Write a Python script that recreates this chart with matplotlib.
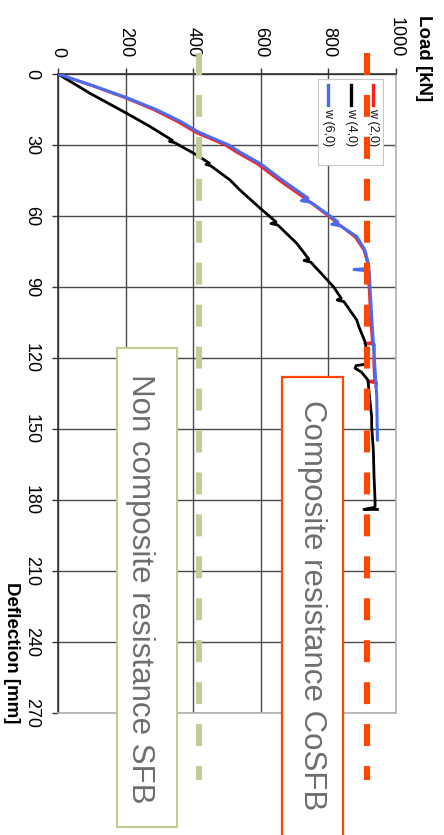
import matplotlib
matplotlib.use("Agg")
import matplotlib.pyplot as plt
from matplotlib.patches import Rectangle
from matplotlib.lines import Line2D

plt.rcParams["font.family"] = ["Liberation Sans", "DejaVu Sans"]
plt.rcParams["lines.scale_dashes"] = False

# ---- data -------------------------------------------------------------
load_ticks = [0, 200, 400, 600, 800, 1000]
defl_ticks = [0, 30, 60, 90, 120, 150, 180, 210, 240, 270]

# w (2,0)
red_defl = [0, 5, 10, 15, 20, 25, 30, 33, 38, 45, 53, 60, 64, 69, 74.4, 80,
            89.8, 102.5, 113.5, 113.8, 114.2, 122, 129.5, 130, 130.5, 132]
red_load = [0, 102, 198, 282, 352, 412, 495, 528, 590, 655, 735, 800, 835, 880, 905, 916,
            920, 925, 930, 908, 936, 934, 937, 917, 943, 940]

# w (4,0)
black_defl = [0, 8.2, 16.6, 22, 28, 28.5, 29, 34.2, 37.7, 38.2, 38.8, 44.8, 49, 56.7,
              62.5, 63.2, 63.8, 71.5, 78.2, 78.8, 79.5, 89.9, 94.8, 95.5, 96.2, 104,
              106.7, 113, 118, 122.5, 123.2, 124.3, 126, 129.3, 137, 144.8, 149, 158.8,
              170, 180, 183, 184, 184]
black_load = [0, 95, 203, 270, 338, 330, 345, 410, 448, 438, 452, 509, 538, 598,
              645, 630, 650, 706, 742, 728, 748, 815, 838, 826, 846, 884,
              890, 908, 915, 917, 882, 879, 898, 917, 922, 928, 928, 933,
              935, 938, 938, 905, 945]

# w (6,0)
blue_defl = [0, 5, 10, 15, 20, 24.5, 30, 33, 38, 45, 52.5, 53.5, 54.2, 60, 62.5, 63.5,
             64.2, 68.7, 74.4, 80, 82.2, 82.6, 83.2, 89.8, 102.5, 113.8, 125, 136, 146, 154.6]
blue_load = [0, 105, 203, 290, 362, 415, 505, 538, 600, 665, 740, 720, 748, 805, 828, 810,
             836, 884, 908, 918, 920, 876, 921, 923, 928, 933, 938, 943, 944, 945]

series_names = ["w (2,0)", "w (4,0)", "w (6,0)"]
series_colors = ["#ff1f1f", "#000000", "#4a6cf0"]

resist_cosfb = 915   # composite resistance CoSFB [kN]
resist_sfb = 418     # non composite resistance SFB [kN]

# ---- figure -----------------------------------------------------------
W, H = 444, 835
fig = plt.figure(figsize=(W / 100, H / 100), dpi=100)


def fx(px):
    return px / W


def fy(py):
    return 1 - py / H


ax = fig.add_axes([fx(58), fy(713), fx(396) - fx(58), fy(74) - fy(713)])
ax.set_xlim(0, 1000)
ax.set_ylim(270, 0)
ax.xaxis.tick_top()
ax.set_xticks(load_ticks)
ax.set_yticks(defl_ticks)
ax.tick_params(axis="x", labelsize=13, pad=8, length=4, width=1, color="#333333")
ax.tick_params(axis="y", labelsize=13, pad=9, length=4, width=1, color="#333333")
for lab in ax.get_xticklabels():
    lab.set_rotation(-90)
    lab.set_ha("center")
    lab.set_va("bottom")
for lab in ax.get_yticklabels():
    lab.set_rotation(-90)
    lab.set_ha("right")
    lab.set_va("center")

ax.grid(True, color="#4a4a4a", lw=1, zorder=0)
ax.set_axisbelow(True)
for side in ("left", "top"):
    ax.spines[side].set_color("#333333")
    ax.spines[side].set_linewidth(1.2)
for side in ("right", "bottom"):
    ax.spines[side].set_color("#b0b0b0")
    ax.spines[side].set_linewidth(1.2)

ax.plot(red_load, red_defl, color=series_colors[0], lw=2.0, zorder=3)
ax.plot(black_load, black_defl, color=series_colors[1], lw=2.0, zorder=4)
ax.plot(blue_load, blue_defl, color=series_colors[2], lw=2.2, zorder=5)

# legend (entries run left to right)
ax.add_patch(Rectangle((fx(318), fy(165)), fx(383) - fx(318), fy(79) - fy(165),
                       transform=fig.transFigure, fc="white", ec="#c8c8c8", lw=0.8,
                       clip_on=False, zorder=6))
for name, col, xp in zip(series_names, series_colors, [373, 351, 328]):
    ax.add_line(Line2D([fx(xp), fx(xp)], [fy(85), fy(105)], transform=fig.transFigure,
                       color=col, lw=2.4, clip_on=False, zorder=7))
    ax.text(fx(xp), fy(108), name, transform=fig.transFigure, rotation=-90,
            ha="center", va="top", fontsize=9, color="#111111", zorder=7)

# annotation boxes
ax.add_patch(Rectangle((fx(117), fy(827)), fx(177) - fx(117), fy(348) - fy(827),
                       transform=fig.transFigure, fc="white", ec="#c3cc95", lw=1.5,
                       clip_on=False, zorder=8))
ax.text(fx(140), fy(589), "Non composite resistance SFB", transform=fig.transFigure,
        rotation=-90, ha="center", va="center", fontsize=22.5, color="#6e6e6e", zorder=9)

ax.add_patch(Rectangle((fx(282), fy(860)), fx(343) - fx(282), fy(377) - fy(860),
                       transform=fig.transFigure, fc="white", ec="#ff4500", lw=1.6,
                       clip_on=False, zorder=8))
ax.text(fx(312), fy(605), "Composite resistance CoSFB", transform=fig.transFigure,
        rotation=-90, ha="center", va="center", fontsize=22.5, color="#6e6e6e", zorder=9)

# resistance levels
d_top, d_bot = -8.9, 298.3
ax.plot([resist_cosfb, resist_cosfb], [d_top, d_bot], color="#ff4500", lw=4.4,
        dashes=(15.8, 14.4), clip_on=False, zorder=10)
ax.plot([resist_sfb, resist_sfb], [d_top, d_bot], color="#c3cc95", lw=4.4,
        dashes=(15.8, 14.4), clip_on=False, zorder=10)

# axis titles
fig.text(fx(423), fy(15), "Load [kN]", rotation=-90, ha="center", va="top",
         fontsize=13.5, fontweight="bold")
fig.text(fx(11), fy(582), "Deflection [mm]", rotation=-90, ha="center", va="top",
         fontsize=13.5, fontweight="bold")

fig.savefig("out.png", dpi=100, facecolor="white")
